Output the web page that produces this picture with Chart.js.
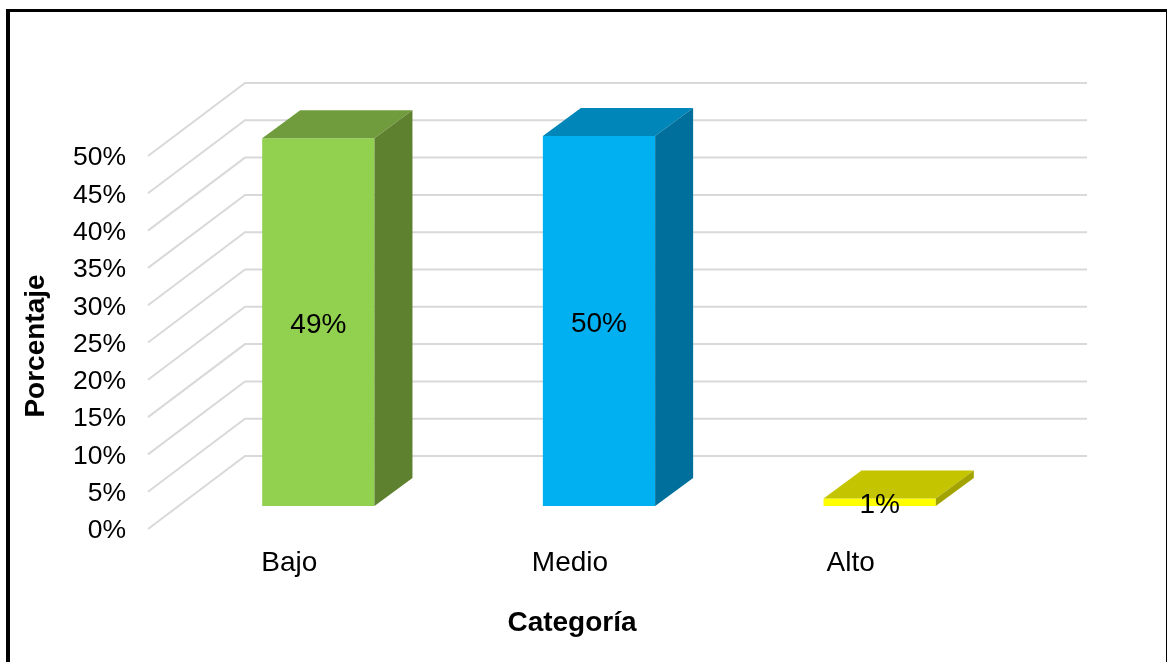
<!DOCTYPE html>
<html>
<head>
<meta charset="utf-8">
<title>Porcentaje por categoría</title>
<script src="https://cdn.jsdelivr.net/npm/chart.js@4"></script>
<style>
  html, body { margin: 0; padding: 0; background: #fff; overflow: hidden; }
  #frame { position: absolute; left: 6px; top: 9px; width: 1161px; height: 653px;
           box-sizing: border-box; border-left: 4px solid #000; border-top: 3px solid #000; border-right: 1px solid #000; }
  canvas { position: absolute; left: 0; top: 0; }
</style>
</head>
<body>
<canvas id="myChart" width="1169" height="662"></canvas>
<div id="frame"></div>
<script>
///data
var categorias = ['Bajo', 'Medio', 'Alto'];
var porcentajes = [49.3, 49.6, 1.0];
var ticks_y = [0, 5, 10, 15, 20, 25, 30, 35, 40, 45, 50];

///colours per bar
var color_frente = ['#92D050', '#00B0F0', '#FFFF00'];
var color_arriba = ['#709C3D', '#0086B8', '#C4C400'];
var color_lado = ['#5E8130', '#006F9B', '#A3A300'];

var fuente = 'Arial, "Liberation Sans", sans-serif';

//depth of the 3D box and of the bars, in pixels
//tick text sits 2px high in this font, so the scale is 2px low and the marks come back up
var wall_dx = 97, wall_dy = -73, wall_left = 148, wall_right = 1087, wall_shift = -2;
var bar_dx = 38, bar_dy = -28;
var shift_dx = 29, shift_dy = -25;

function poly(ctx, pts, color){
    ctx.fillStyle = color;
    ctx.beginPath();
    ctx.moveTo(pts[0][0], pts[0][1]);
    for (var i = 1; i < pts.length; i++) ctx.lineTo(pts[i][0], pts[i][1]);
    ctx.closePath();
    ctx.fill();
}

var caja3d = {
    id: 'caja3d',
    //back wall and the diagonal lines on the left side
    beforeDatasetsDraw: function(chart){
        var ctx = chart.ctx, y_scale = chart.scales.y;
        ctx.save();
        ctx.strokeStyle = '#D9D9D9';
        ctx.lineWidth = 2;
        ticks_y.forEach(function(t){
            var y = y_scale.getPixelForValue(t) + wall_shift;
            ctx.beginPath();
            ctx.moveTo(wall_left, y);
            ctx.lineTo(wall_left + wall_dx, y + wall_dy);
            ctx.lineTo(wall_right, y + wall_dy);
            ctx.stroke();
        });
        ctx.restore();
    },
    //bars stand in the middle of the floor, not on the front edge
    beforeDatasetDraw: function(chart){
        chart.ctx.save();
        chart.ctx.translate(shift_dx, shift_dy);
    },
    afterDatasetDraw: function(chart){
        var ctx = chart.ctx;
        chart.getDatasetMeta(0).data.forEach(function(bar, i){
            var l = bar.x - bar.width / 2, r = bar.x + bar.width / 2;
            poly(ctx, [[l, bar.y], [r, bar.y], [r + bar_dx, bar.y + bar_dy], [l + bar_dx, bar.y + bar_dy]], color_arriba[i]);
            poly(ctx, [[r, bar.y], [r + bar_dx, bar.y + bar_dy], [r + bar_dx, bar.base + bar_dy], [r, bar.base]], color_lado[i]);
        });
        ctx.restore();
    },
    //percent labels and the two axis titles
    afterDatasetsDraw: function(chart){
        var ctx = chart.ctx;
        ctx.save();
        ctx.font = '28px ' + fuente;
        ctx.fillStyle = '#000';
        ctx.textAlign = 'center';
        ctx.textBaseline = 'middle';
        chart.getDatasetMeta(0).data.forEach(function(bar, i){
            var y = (bar.y + bar.base) / 2 + shift_dy + 3;
            ctx.fillText(Math.round(porcentajes[i]) + '%', bar.x + shift_dx, y);
        });
        ctx.font = 'bold 28px ' + fuente;
        ctx.fillText('Categoría', 572, 623);
        ctx.translate(36, 346);
        ctx.rotate(-Math.PI / 2);
        ctx.fillText('Porcentaje', 0, 0);
        ctx.restore();
    }
};

var ctx = document.getElementById('myChart').getContext('2d');
var myChart = new Chart(ctx, {
    type: 'bar',
    plugins: [caja3d],
    data: {
        labels: categorias,
        datasets: [{
            data: porcentajes,
            backgroundColor: color_frente,
            borderWidth: 0,
            categoryPercentage: 1,
            barPercentage: 0.4
        }]
    },
    options: {
        responsive: false,
        animation: false,
        layout: { padding: { top: 158, right: 178, left: 0, bottom: 0 } },
        plugins: { legend: { display: false }, tooltip: { enabled: false } },
        scales: {
            x: {
                grid: { display: false },
                border: { display: false },
                ticks: { color: '#000', padding: 7, maxRotation: 0, font: { family: fuente, size: 28 } },
                afterFit: function(s){ s.height = 131; s.paddingLeft = 0; s.paddingRight = 0; }
            },
            y: {
                min: 0,
                max: 50,
                grid: { display: false, drawTicks: false },
                border: { display: false },
                afterBuildTicks: function(s){ s.ticks = ticks_y.map(function(v){ return { value: v }; }); },
                ticks: { color: '#000', padding: 23, autoSkip: false, font: { family: fuente, size: 26.5 },
                         callback: function(v){ return v + '%'; } },
                afterFit: function(s){ s.width = 149; s.paddingTop = 0; s.paddingBottom = 0; }
            }
        }
    }
});
</script>
</body>
</html>
